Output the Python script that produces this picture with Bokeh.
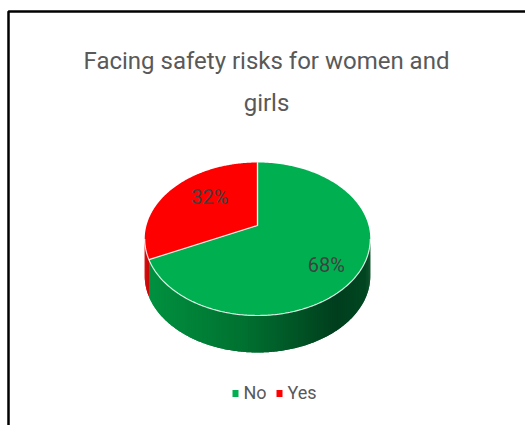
import numpy as np
from bokeh.plotting import figure
from bokeh.models import Range1d
from bokeh.core.properties import value
from bokeh.embed import file_html
from bokeh.resources import INLINE

# ---- data ----
categories = ["No", "Yes"]
values = [68, 32]
slice_colors = ["#00B050", "#FF0000"]
title_lines = ["Facing safety risks for women and", "girls"]

# ---- layout / style constants ----
W, H = 525, 425
CX, CY = 257.0, 225.0        # projected pie centre
R = 111.0                    # radius
B, K = -34.4, 0.1765         # perspective tilt parameters
DEPTH = 37.0                 # pie thickness (px)
FONT = "Roboto"
LABEL_DX, LABEL_DY = 6.0, 3.0

def proj(theta, rho=1.0):
    c = rho * np.cos(theta)
    t = rho * np.sin(theta)
    d = 1.0 + K * t
    return CX + R * c / d, (CY + B * t) / d

p = figure(width=W, height=H, output_backend="svg", toolbar_location=None,
           x_range=Range1d(0, W), y_range=Range1d(H, 0), min_border=0)
p.axis.visible = False
p.grid.visible = False
p.outline_line_color = None
p.background_fill_color = "white"
p.border_fill_color = "white"

# chart frame
p.quad(left=[8], right=[W + 20], top=[11], bottom=[H + 20], fill_alpha=0,
       line_color="black", line_width=2.5)

# slice angles (clockwise from 12 o'clock)
total = float(sum(values))
fracs = [v / total for v in values]
starts, ends = [], []
a = np.pi / 2
for f in fracs:
    starts.append(a - 2 * np.pi * f)
    ends.append(a)
    a -= 2 * np.pi * f

th_left = np.pi + np.arcsin(K)
th_right = 2 * np.pi - np.arcsin(K)

def side_color(u, base):
    if base == "#00B050":
        stops = [(0.0, (0, 146, 64)), (0.45, (0, 112, 48)), (0.85, (0, 62, 29)), (1.0, (0, 72, 34))]
    else:
        stops = [(0.0, (205, 0, 0)), (1.0, (225, 0, 0))]
    for (u0, c0), (u1, c1) in zip(stops[:-1], stops[1:]):
        if u <= u1:
            f = (u - u0) / (u1 - u0) if u1 > u0 else 0
            c = [int(round(c0[i] + f * (c1[i] - c0[i]))) for i in range(3)]
            return "#%02x%02x%02x" % tuple(c)
    return "#%02x%02x%02x" % stops[-1][1]

xl, _ = proj(th_left)
xr, _ = proj(th_right)

sx, sy, sc = [], [], []
for s, e, col in zip(starts, ends, slice_colors):
    a0, a1 = s % (2 * np.pi), e % (2 * np.pi)
    if a1 <= a0:
        a1 += 2 * np.pi
    for off in (0.0, 2 * np.pi):
        lo = max(a0 + off, th_left)
        hi = min(a1 + off, th_right)
        if hi <= lo:
            continue
        n = max(2, int((hi - lo) / 0.02))
        edges = np.linspace(lo, hi, n + 1)
        for i in range(n):
            e1 = edges[min(i + 2, n)]
            th = np.linspace(edges[i], e1, 5)
            px, py = proj(th)
            xs = list(px) + list(px[::-1])
            ys = list(py) + list(py[::-1] + DEPTH)
            um = (np.mean(proj(edges[i:i + 2])[0]) - xl) / (xr - xl)
            sx.append(xs); sy.append(ys); sc.append(side_color(um, col))

p.patches(xs=sx, ys=sy, fill_color=sc, line_color=None)

# top faces
tx, ty = [], []
for s, e in zip(starts, ends):
    th = np.linspace(s, e, 200)
    px, py = proj(th)
    tx.append([CX] + list(px))
    ty.append([CY] + list(py))
p.patches(xs=tx, ys=ty, fill_color=slice_colors, line_color=None)

# white separators + front rim highlight
bx, by = [], []
for s in starts:
    ex, ey = proj(s)
    bx.append([CX, ex]); by.append([CY, ey])
bx.append([CX, CX]); by.append([CY, proj(np.pi / 2)[1]])
rim = np.linspace(th_left, th_right, 200)
rx, ry = proj(rim)
bx.append(list(rx)); by.append(list(ry))
p.multi_line(xs=bx, ys=by, line_color="white", line_width=1.2, line_alpha=0.85)

# data labels
lab_x, lab_y, lab_t = [], [], []
for s, e, v in zip(starts, ends, values):
    mid = (s + e) / 2 - np.radians(8.5)
    lx, ly = proj(mid, 0.69)
    lab_x.append(lx + LABEL_DX); lab_y.append(ly + LABEL_DY); lab_t.append(f"{v}%")
p.text(x=lab_x, y=lab_y, text=lab_t, text_font=value(FONT), text_font_size="20px",
       text_color="#404040", text_align="center", text_baseline="middle")

# title
p.text(x=[266, 266], y=[60, 102], text=title_lines, text_font=value(FONT),
       text_font_size="24px", text_color="#595959", text_align="center",
       text_baseline="middle")

# legend
leg_left, leg_step, leg_y = 235, 44, 393
lx = [leg_left + i * leg_step for i in range(len(categories))]
p.rect(x=lx, y=[leg_y] * len(categories), width=6, height=7,
       fill_color=slice_colors, line_color=None)
p.text(x=[v + 8 for v in lx], y=[leg_y - 1] * len(categories), text=categories,
       text_font=value(FONT), text_font_size="18px", text_color="#595959",
       text_align="left", text_baseline="middle")

open("out.html", "w").write(file_html(p, INLINE))
